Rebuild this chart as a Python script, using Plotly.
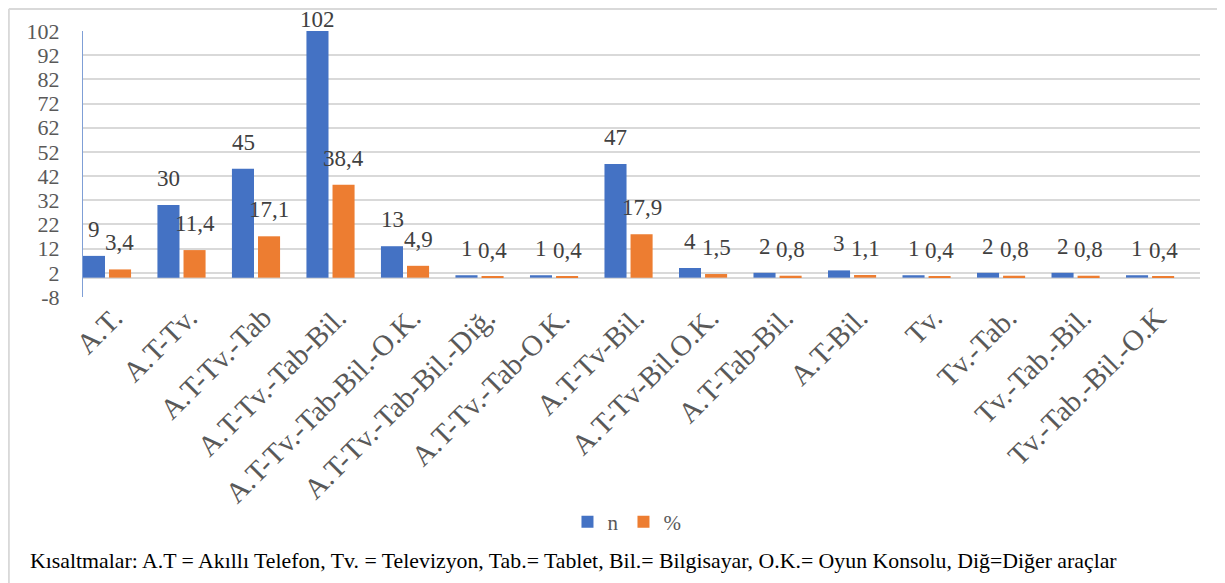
import plotly.graph_objects as go

categories = ["A.T.", "A.T-Tv.", "A.T-Tv.-Tab", "A.T-Tv.-Tab-Bil.", "A.T-Tv.-Tab-Bil.-O.K.",
              "A.T-Tv.-Tab-Bil.-Diğ.", "A.T-Tv.-Tab-O.K.", "A.T-Tv-Bil.", "A.T-Tv-Bil.O.K.",
              "A.T-Tab-Bil.", "A.T-Bil.", "Tv.", "Tv.-Tab.", "Tv.-Tab.-Bil.", "Tv.-Tab.-Bil.-O.K"]
n_values = [9, 30, 45, 102, 13, 1, 1, 47, 4, 2, 3, 1, 2, 2, 1]
pct_values = [3.4, 11.4, 17.1, 38.4, 4.9, 0.4, 0.4, 17.9, 1.5, 0.8, 1.1, 0.4, 0.8, 0.8, 0.4]
y_ticks = list(range(-8, 103, 10))
caption = ("Kısaltmalar: A.T = Akıllı Telefon, Tv. = Televizyon, Tab.= Tablet, Bil.= Bilgisayar, "
           "O.K.= Oyun Konsolu, Diğ=Diğer araçlar")

FONT = "Liberation Serif, Times New Roman, serif"
BLUE = "#4472C4"
ORANGE = "#ED7D31"
LABEL_COLOR = "#404040"

fig = go.Figure()
fig.add_trace(go.Bar(name="n", x=categories, y=n_values, marker_color=BLUE,
                     marker_line_width=0))
fig.add_trace(go.Bar(name="%", x=categories, y=pct_values, marker_color=ORANGE,
                     marker_line_width=0))

y_top = 102
annotations = []
for c, v in zip(categories, n_values):
    annotations.append(dict(x=c, y=v, xref="x", yref="y", text=str(v), showarrow=False,
                            xshift=-13, yshift=12 if v < 0.9 * y_top else -3, yanchor="bottom",
                            font=dict(family=FONT, size=23, color=LABEL_COLOR)))
for c, v in zip(categories, pct_values):
    annotations.append(dict(x=c, y=v, xref="x", yref="y", text=f"{v:.1f}".replace(".", ","),
                            showarrow=False, xshift=13, yshift=12, yanchor="bottom",
                            font=dict(family=FONT, size=23, color=LABEL_COLOR)))
annotations.append(dict(x=-0.0492, y=-0.9925, xref="paper", yref="paper", text=caption,
                        showarrow=False, xanchor="left", yanchor="middle",
                        font=dict(family=FONT, size=21.8, color="#000000")))

fig.update_layout(
    width=1217, height=575,
    margin=dict(l=75, r=25, t=23, b=286, autoexpand=False),
    paper_bgcolor="white", plot_bgcolor="white",
    barmode="group", bargap=0.30, bargroupgap=0.154,
    font=dict(family=FONT, color="#595959"),
    showlegend=True,
    legend=dict(orientation="h", x=0.487, y=-0.846, xanchor="center", yanchor="middle",
                font=dict(family=FONT, size=21, color="#595959"),
                itemwidth=30, tracegroupgap=0),
    annotations=annotations,
    shapes=[
        dict(type="line", xref="paper", yref="paper", x0=-0.0664, x1=-0.0664, y0=1.083, y1=-1.1,
             line=dict(color="#d9d9d9", width=2)),
        dict(type="line", xref="paper", yref="paper", x0=-0.0664, x1=1.03, y0=1.083, y1=1.083,
             line=dict(color="#d9d9d9", width=2)),
    ],
)
fig.update_xaxes(type="category", range=[-0.322, 14.67], tickangle=-45,
                 tickfont=dict(family=FONT, size=29, color="#595959"),
                 showgrid=False, showline=False, ticks="", automargin=False,
                 ticklabelstandoff=-3, ticklabelshift=7)
fig.update_yaxes(range=[-8, 102], tickvals=y_ticks, ticktext=[str(t) for t in y_ticks],
                 tickfont=dict(family=FONT, size=22, color="#595959"),
                 showgrid=True, gridcolor="#d9d9d9", gridwidth=1.5,
                 zeroline=True, zerolinecolor="#d9d9d9", zerolinewidth=1.5,
                 showline=True, linecolor="#7f9fd6", linewidth=1, automargin=False,
                 ticks="outside", ticklen=18, tickcolor="rgba(0,0,0,0)")

fig.write_html("out.html")
